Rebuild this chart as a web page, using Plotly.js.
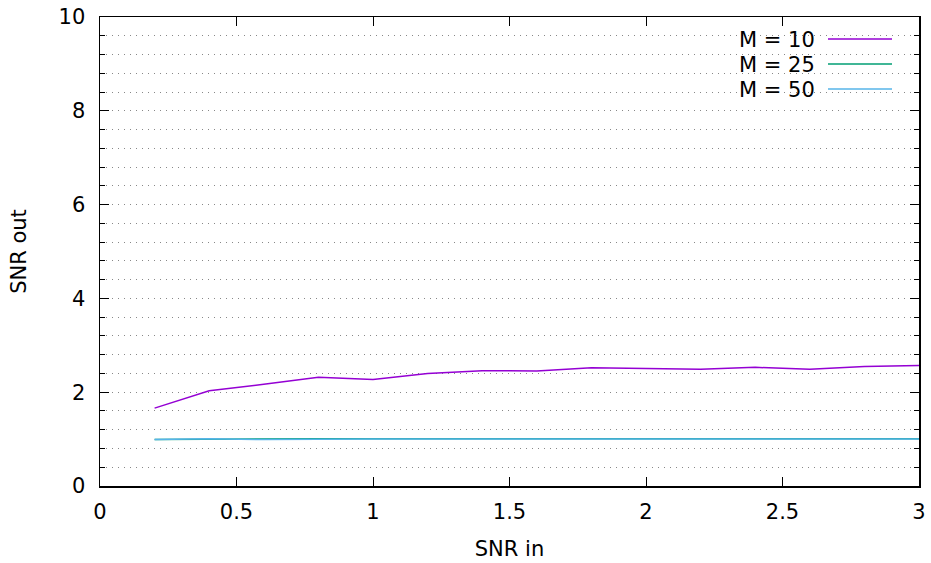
<!DOCTYPE html>
<html>
<head>
<meta charset="utf-8">
<script src="https://cdn.plot.ly/plotly-3.0.1.min.js"></script>
<style>html,body{margin:0;padding:0;background:#fff;}#chart{width:931px;height:563px;}</style>
</head>
<body>
<div id="chart"></div>
<script>
const snrIn = [0.2, 0.4, 0.6, 0.8, 1.0, 1.2, 1.4, 1.6, 1.8, 2.0, 2.2, 2.4, 2.6, 2.8, 3.0];
const snrOutM10 = [1.66, 2.03, 2.17, 2.32, 2.27, 2.40, 2.46, 2.45, 2.52, 2.51, 2.49, 2.53, 2.49, 2.55, 2.57];
const snrOutM25 = [0.99, 1.00, 1.00, 1.01, 1.01, 1.01, 1.01, 1.01, 1.01, 1.01, 1.01, 1.01, 1.01, 1.01, 1.01];
const snrOutM50 = [0.99, 1.01, 0.99, 1.00, 1.00, 1.00, 1.00, 1.00, 1.00, 1.00, 1.00, 1.00, 1.00, 1.00, 1.00];
const seriesNames = ['M = 10', 'M = 25', 'M = 50'];
const seriesColors = ['#9400d3', '#009e73', '#56b4e9'];
const seriesValues = [snrOutM10, snrOutM25, snrOutM50];

const font = {family: 'DejaVu Sans, sans-serif', size: 21, color: '#000'};

const traces = seriesValues.map((v, i) => ({
  x: snrIn, y: v, type: 'scatter', mode: 'lines', name: seriesNames[i],
  line: {color: seriesColors[i], width: 1.5}, showlegend: false
}));

// legend drawn gnuplot-style: text then line sample
const annotations = [];
const shapes = [];
seriesNames.forEach((n, i) => {
  const yPix = 40 + i * 25;
  const yPaper = 1 - (yPix - 17) / 469;
  annotations.push({xref: 'paper', yref: 'paper', x: (817 - 100) / 819, y: yPaper,
    text: n, showarrow: false, xanchor: 'right', yanchor: 'middle', font: font});
  shapes.push({type: 'line', xref: 'paper', yref: 'paper',
    x0: (828 - 100) / 819, x1: (892 - 100) / 819, y0: 1 - (yPix - 1 - 17) / 469, y1: 1 - (yPix - 1 - 17) / 469,
    line: {color: seriesColors[i], width: 1.5}});
});

const layout = {
  width: 931, height: 563,
  margin: {l: 100, r: 12, t: 17, b: 77},
  paper_bgcolor: '#fff', plot_bgcolor: '#fff',
  font: font,
  showlegend: false,
  xaxis: {
    range: [0, 3], dtick: 0.5, tick0: 0,
    ticks: 'inside', ticklen: 9, tickwidth: 1, tickcolor: '#000',
    mirror: 'allticks', showline: true, linecolor: '#000', linewidth: 1.5,
    showgrid: false, zeroline: false,
    ticklabelstandoff: 6,
    title: {text: 'SNR in', font: font, standoff: 18}
  },
  yaxis: {
    range: [0, 10], dtick: 2, tick0: 0,
    ticks: 'inside', ticklen: 9, tickwidth: 1, tickcolor: '#000',
    mirror: 'allticks', showline: true, linecolor: '#000', linewidth: 1.5,
    showgrid: true, gridcolor: '#888', gridwidth: 1, griddash: '1px,5px',
    zeroline: false,
    ticklabelstandoff: 9,
    minor: {dtick: 0.4, ticks: 'inside', ticklen: 5, tickcolor: '#000',
            showgrid: true, gridcolor: '#888', gridwidth: 1, griddash: '1px,5px'},
    title: {text: 'SNR out', font: font, standoff: 26}
  },
  annotations: annotations,
  shapes: shapes
};

Plotly.newPlot('chart', traces, layout, {staticPlot: true});
</script>
</body>
</html>
